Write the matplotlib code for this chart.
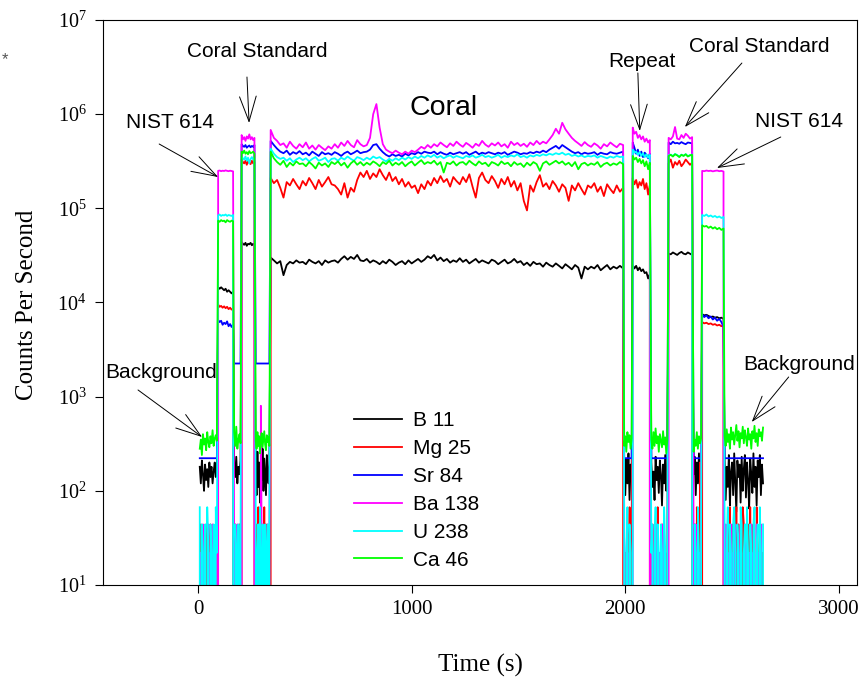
import numpy as np
import matplotlib
matplotlib.use("Agg")
import matplotlib.pyplot as plt
from matplotlib.ticker import NullLocator, LogFormatterSciNotation

plt.rcParams["font.family"] = "Liberation Serif"
SANS = "Liberation Sans"


def k(values):
    # values typed in thousands of counts
    return [v * 1000 for v in values]


# sampling of the run: (first t, last t, step) per segment
# bg, NIST 614, bg, coral std, bg, coral, bg, repeat, bg, coral std, bg, NIST 614, bg
segments = [(8, 88, 5), (94, 164, 7), (169, 199, 5), (204, 264, 6), (270, 334, 4),
            (340, 1990, 15), (1995, 2030, 5), (2035, 2115, 8), (2122, 2197, 5),
            (2203, 2313, 10), (2320, 2355, 5), (2360, 2460, 10), (2465, 2645, 5)]
time_s = np.concatenate([np.arange(a, b + 1, s) for a, b, s in segments])

b11 = ([180, 120, 210, 150, 100, 190, 130, 170, 110, 200, 140, 180, 120, 160, 200, 140, 175]
       + k([14.5, 14, 14.5, 14, 13.5, 14, 13, 13.5, 13, 12.5, 13])
       + [200, 140, 230, 120, 180, 150, 210]
       + k([44, 42, 41, 43, 40, 42, 41.5, 43, 40.5, 42, 41])
       + [150, 90, 260, 110, 200, 75, 180, 130, 280, 100, 220, 140, 90, 240, 160, 120, 190]
       + k([30, 28, 26, 27.5, 19.5, 25, 27, 26, 28, 26.5,
            27, 25.5, 28.5, 27, 26, 27.5, 25, 28, 26.5, 27.5,
            28, 26.5, 29, 31, 28.5, 30.5, 29, 32, 28, 27.5,
            29, 26.5, 28, 27, 25.5, 27.5, 26, 28.5, 27, 25,
            26.5, 27.5, 25.5, 28, 26, 27.5, 29, 27, 28.5, 31,
            29.5, 32, 28, 30, 27.5, 29, 26.5, 28, 27, 29.5,
            27, 28.5, 26, 27.5, 29, 26.5, 28, 27, 26, 28.5,
            27.5, 25.5, 27, 28.5, 26, 27, 29, 26.5, 27.5, 25,
            26.5, 24.5, 27, 25.5, 26, 24, 26.5, 25, 24, 26,
            24.5, 23, 25.5, 24, 22.5, 25, 23.5, 18, 24, 22.5,
            24, 23, 25, 22, 23.5, 25, 22.5, 24, 23, 24.5, 23])
       + [170, 90, 220, 120, 250, 80, 190, 140]
       + k([25, 23, 24.5, 22, 23.5, 21.5, 22.5, 20.5, 21, 18, 20])
       + [200, 110, 160, 80, 230, 130, 180, 95, 210, 150, 70, 190, 120, 240, 100, 170]
       + k([33, 32.5, 34, 33, 32, 33.5, 34.5, 33, 32.5, 34, 33, 32])
       + [150, 230, 90, 200, 120, 250, 100, 180]
       + k([7.5, 7.3, 7.4, 7.2, 7.0, 7.1, 6.9, 7.0, 6.8, 6.9, 6.7])
       + [220, 80, 180, 110, 240, 70, 160, 200, 90, 250, 120, 60, 210, 140, 190, 75, 230, 100, 170,
          240, 85, 200, 130, 65, 220, 150, 95, 250, 110, 180, 70, 210, 140, 240, 90, 190, 120])

mg25 = ([0, 44, 0, 22, 0, 0, 44, 0, 22, 0, 44, 0, 0, 22, 0, 44, 0]
        + k([9.5, 9, 9.2, 8.8, 9.1, 8.7, 9, 8.5, 8.8, 8.4, 8.6])
        + [0, 44, 0, 22, 0, 44, 0]
        + k([330, 310, 300, 320, 290, 315, 305, 295, 320, 300, 310])
        + [0, 44, 0, 67, 0, 22, 0, 44, 0, 0, 67, 0, 44, 0, 22, 0, 0]
        + k([210, 185, 200, 165, 130, 190, 175, 205, 180, 160,
             195, 175, 210, 185, 160, 200, 170, 190, 215, 180,
             175, 160, 140, 185, 130, 165, 150, 200, 240, 215,
             250, 205, 235, 215, 260, 225, 200, 240, 195, 215,
             180, 205, 170, 190, 165, 175, 145, 180, 160, 195,
             175, 210, 185, 220, 190, 205, 170, 215, 195, 180,
             215, 190, 230, 170, 130, 210, 240, 200, 185, 220,
             195, 165, 205, 180, 215, 170, 195, 155, 185, 120,
             95, 175, 150, 190, 225, 170, 185, 160, 195, 175,
             150, 180, 165, 120, 175, 155, 185, 160, 140, 175,
             165, 185, 150, 170, 135, 180, 160, 145, 175, 150, 165])
        + [0, 22, 0, 44, 0, 67, 0, 22]
        + k([210, 180, 200, 165, 190, 175, 205, 160, 185, 140, 175])
        + [0, 22, 0, 44, 0, 0, 67, 0, 22, 0, 44, 0, 0, 22, 0, 44]
        + k([300, 330, 270, 310, 290, 320, 280, 300, 330, 310, 290, 305])
        + [0, 44, 0, 67, 22, 0, 200, 0]
        + k([6.2, 6.0, 6.1, 5.9, 6.0, 5.8, 5.9, 5.7, 5.8, 5.6, 5.7])
        + [0, 22, 0, 44, 0, 67, 0, 0, 44, 22, 0, 67, 0, 44, 0, 22, 0, 67, 44,
           0, 22, 0, 44, 0, 67, 0, 22, 44, 0, 0, 67, 22, 0, 44, 0, 22, 0])

sr84 = ([222] * 17
        + k([6.5, 6.2, 6.4, 5.8, 6.1, 5.9, 6.3, 5.6, 5.9, 5.5, 5.8])
        + [2250] * 7
        + k([480, 460, 450, 470, 440, 455, 465, 445, 460, 450, 470])
        + [2250] * 17
        + k([520, 470, 430, 400, 385, 410, 370, 395, 380, 405,
             375, 390, 365, 400, 380, 360, 395, 375, 385, 370,
             395, 380, 360, 385, 400, 375, 390, 410, 385, 395,
             400, 420, 470, 480, 430, 395, 370, 355, 375, 360,
             370, 355, 380, 365, 385, 375, 395, 380, 400, 390,
             385, 400, 375, 395, 380, 370, 390, 375, 385, 395,
             380, 395, 370, 385, 400, 375, 390, 380, 395, 385,
             375, 390, 380, 395, 370, 385, 400, 390, 375, 385,
             380, 395, 385, 400, 390, 410, 395, 420, 440, 460,
             430, 470, 445, 420, 400, 385, 395, 375, 390, 380,
             385, 395, 370, 390, 380, 375, 395, 385, 380, 390, 400])
        + [222] * 8
        + k([500, 440, 380, 420, 360, 400, 350, 390, 370, 340, 380])
        + [222] * 16
        + k([500, 480, 510, 490, 495, 485, 505, 490, 480, 500, 495, 490])
        + [222] * 8
        + k([7.5, 7.0, 7.3, 6.8, 7.1, 6.6, 6.9, 6.4, 6.7, 6.2, 5.5])
        + [222] * 37)

ba138 = ([0, 22, 0, 44, 0, 22, 0, 0, 44, 0, 22, 0, 44, 0, 0, 22, 0]
         + k([250, 252, 248, 251, 249, 253, 250, 248, 251, 249, 247])
         + [22, 0, 0, 44, 0, 22, 0]
         + k([600, 540, 570, 520, 580, 550, 610, 540, 570, 530, 560])
         + [0, 22, 0, 0, 44, 0, 800, 22, 0, 44, 0, 0, 22, 0, 44, 0, 22]
         + k([680, 560, 520, 470, 490, 440, 510, 460, 430, 480,
              445, 500, 430, 465, 420, 470, 440, 415, 455, 430,
              480, 440, 500, 460, 520, 470, 445, 530, 480, 455,
              470, 560, 1000, 1280, 720, 480, 420, 400, 385, 410,
              390, 375, 400, 380, 410, 395, 420, 450, 430, 470,
              440, 480, 455, 500, 470, 445, 490, 460, 510, 475,
              450, 495, 470, 440, 485, 460, 520, 475, 450, 490,
              465, 500, 455, 480, 440, 510, 470, 495, 460, 485,
              450, 500, 470, 520, 480, 510, 490, 540, 600, 700,
              620, 810, 690, 620, 560, 520, 490, 460, 505, 470,
              450, 490, 465, 430, 480, 455, 500, 470, 445, 485, 470])
         + [44, 0, 22, 44, 0, 22, 0, 0]
         + k([720, 620, 650, 560, 600, 540, 580, 510, 550, 500, 530])
         + [0, 44, 0, 22, 0, 44, 0, 0, 22, 0, 0, 44, 0, 22, 0, 0]
         + k([560, 540, 580, 730, 550, 540, 600, 560, 620, 590, 550, 570])
         + [22, 0, 44, 0, 0, 22, 0, 44]
         + k([250, 248, 252, 249, 251, 247, 250, 252, 248, 250, 246])
         + [0, 44, 0, 22, 0, 0, 44, 0, 22, 0, 44, 0, 0, 22, 0, 44, 0, 0, 22,
            0, 44, 0, 0, 22, 0, 44, 0, 22, 0, 0, 44, 0, 22, 0, 44, 0, 0])

u238 = ([67, 0, 44, 22, 0, 44, 0, 67, 22, 0, 44, 22, 0, 44, 0, 67, 22]
        + k([84, 86, 83, 85, 84, 86, 83, 85, 84, 83, 85])
        + [0, 44, 22, 0, 44, 0, 22]
        + k([350, 340, 330, 355, 320, 345, 300, 335, 350, 330, 340])
        + [44, 0, 22, 44, 0, 67, 22, 0, 44, 22, 0, 44, 0, 22, 44, 0, 44]
        + k([430, 380, 350, 335, 345, 320, 340, 310, 330, 345,
             325, 340, 315, 335, 350, 320, 330, 345, 310, 335,
             340, 320, 345, 330, 355, 335, 320, 350, 340, 325,
             345, 330, 355, 340, 350, 330, 315, 335, 320, 340,
             325, 345, 330, 350, 335, 355, 340, 360, 345, 365,
             350, 370, 345, 360, 340, 355, 365, 345, 360, 350,
             340, 360, 350, 365, 345, 355, 370, 350, 360, 345,
             355, 370, 345, 360, 350, 365, 355, 375, 350, 360,
             345, 365, 355, 370, 360, 375, 365, 380, 370, 385,
             375, 390, 370, 380, 360, 370, 355, 365, 350, 360,
             355, 365, 345, 360, 350, 340, 355, 345, 360, 350, 355])
        + [44, 0, 22, 67, 0, 44, 22, 0]
        + k([420, 390, 400, 370, 395, 360, 385, 350, 375, 345, 370])
        + [22, 44, 0, 22, 67, 0, 44, 22, 0, 44, 22, 0, 67, 22, 0, 44]
        + k([365, 372, 360, 378, 368, 355, 372, 362, 376, 358, 368, 372])
        + [0, 44, 22, 0, 67, 22, 0, 44]
        + k([85, 83, 86, 82, 84, 81, 83, 80, 82, 79, 81])
        + [44, 0, 22, 67, 0, 44, 22, 0, 44, 67, 22, 0, 44, 22, 0, 67, 44, 0, 22,
           44, 0, 67, 22, 0, 44, 22, 0, 44, 67, 0, 22, 44, 0, 67, 22, 0, 44])

ca46 = ([280, 350, 240, 400, 310, 360, 270, 420, 330, 290, 380, 320, 440, 300, 360, 390, 340]
        + k([74, 72, 75, 73, 74, 71, 75, 73, 72, 74, 73])
        + [420, 300, 480, 280, 350, 400, 320]
        + k([400, 385, 410, 380, 395, 375, 405, 385, 390, 400, 380])
        + [340, 280, 420, 300, 380, 250, 360, 410, 290, 350, 430, 310, 270, 390, 330, 370, 300]
        + k([400, 340, 310, 290, 320, 275, 305, 285, 315, 295,
             300, 280, 310, 290, 265, 305, 285, 300, 275, 310,
             295, 315, 285, 305, 270, 300, 320, 290, 310, 285,
             305, 290, 315, 300, 280, 310, 295, 320, 285, 305,
             290, 310, 280, 300, 315, 285, 305, 325, 295, 310,
             300, 320, 290, 310, 240, 305, 295, 315, 285, 305,
             310, 290, 320, 300, 285, 315, 295, 305, 280, 310,
             300, 285, 315, 295, 305, 280, 310, 290, 300, 275,
             305, 285, 310, 295, 250, 300, 315, 290, 305, 320,
             300, 315, 290, 305, 280, 310, 260, 295, 305, 285,
             300, 290, 310, 275, 295, 305, 285, 300, 290, 310, 295])
        + [300, 380, 260, 420, 330, 390, 280, 360]
        + k([360, 330, 345, 310, 335, 300, 325, 280, 315, 260, 305])
        + [350, 280, 420, 300, 460, 320, 380, 260, 400, 340, 290, 430, 310, 370, 250, 350]
        + k([360, 370, 355, 375, 365, 350, 370, 360, 375, 355, 365, 370])
        + [260, 350, 300, 420, 280, 380, 320, 360]
        + k([66, 64, 65, 62, 64, 61, 63, 60, 62, 59, 61])
        + [380, 300, 450, 330, 400, 280, 470, 350, 420, 310, 390, 500, 340, 430, 290, 410, 360, 480, 320,
           440, 370, 300, 460, 350, 400, 280, 430, 360, 490, 330, 410, 300, 450, 380, 420, 340, 470])

labels = ["B 11", "Mg 25", "Sr 84", "Ba 138", "U 238", "Ca 46"]
series = [b11, mg25, sr84, ba138, u238, ca46]
colors = ["black", "#ff0000", "#0000ff", "#ff00ff", "#00ffff", "#00ff00"]

for s in series:
    assert len(s) == len(time_s)

fig = plt.figure(figsize=(8.59, 6.80), dpi=100)
ax = fig.add_axes([0.1199, 0.1397, 0.8778, 0.8309])

for lab, vals, col in zip(labels, series, colors):
    ax.plot(time_s, vals, color=col, lw=1.3, label=lab)

ax.set_yscale("log", nonpositive="clip")
ax.set_xlim(-445, 3085)
ax.set_ylim(10, 1e7)
ax.set_xticks([0, 1000, 2000, 3000])
ax.set_yticks([1e1, 1e2, 1e3, 1e4, 1e5, 1e6, 1e7])
ax.yaxis.set_major_formatter(LogFormatterSciNotation())
ax.yaxis.set_minor_locator(NullLocator())
ax.tick_params(axis="x", direction="out", length=5.8, width=0.8, labelsize=15, pad=5)
ax.tick_params(axis="y", direction="out", length=5.8, width=0.8, labelsize=14.5, pad=6)
for sp in ax.spines.values():
    sp.set_linewidth(0.8)

ax.set_xlabel("Time (s)", fontsize=18, va="center")
ax.xaxis.set_label_coords(0.5, -0.1416)
ax.set_ylabel("Counts Per Second", fontsize=18, va="center")
ax.yaxis.set_label_coords(-0.1008, 0.4956)

# annotations
txt = dict(family=SANS, fontsize=15, ha="center", va="baseline")
arrow = dict(arrowstyle="->,head_length=1.2,head_width=0.4", lw=0.7, color="black",
             shrinkA=0, shrinkB=0)

ax.text(-133, 7.13e5, "NIST 614", **txt)
ax.text(276, 4.05e6, "Coral Standard", **txt)
ax.text(1149, 9.8e5, "Coral", family=SANS, fontsize=20.5, ha="center", va="baseline")
ax.text(2080, 3.17e6, "Repeat", **txt)
ax.text(2627, 4.57e6, "Coral Standard", **txt)
ax.text(2815, 7.3e5, "NIST 614", **txt)
ax.text(-171, 1580, "Background", **txt)
ax.text(2812, 1920, "Background", **txt)

arrows = [((-182, 4.82e5), (94, 2.15e5)),
          ((229, 2.48e6), (239, 8.06e5)),
          ((2059, 2.74e6), (2068, 6.63e5)),
          ((2546, 3.49e6), (2279, 7.3e5)),
          ((2728, 5.72e5), (2429, 2.68e5)),
          ((-281, 1178), (19, 373)),
          ((2765, 1618), (2592, 538))]
for start, end in arrows:
    ax.annotate("", xy=end, xytext=start, arrowprops=arrow, fontsize=15)

ax.legend(loc="upper left", bbox_to_anchor=(0.333, 0.308), frameon=False,
          prop={"family": SANS, "size": 15}, handlelength=2.3, handletextpad=0.55,
          labelspacing=0.43, borderpad=0, borderaxespad=0)

fig.text(0.002, 0.905, "*", family=SANS, fontsize=12, color="#555555")

fig.savefig("out.png", dpi=100)
